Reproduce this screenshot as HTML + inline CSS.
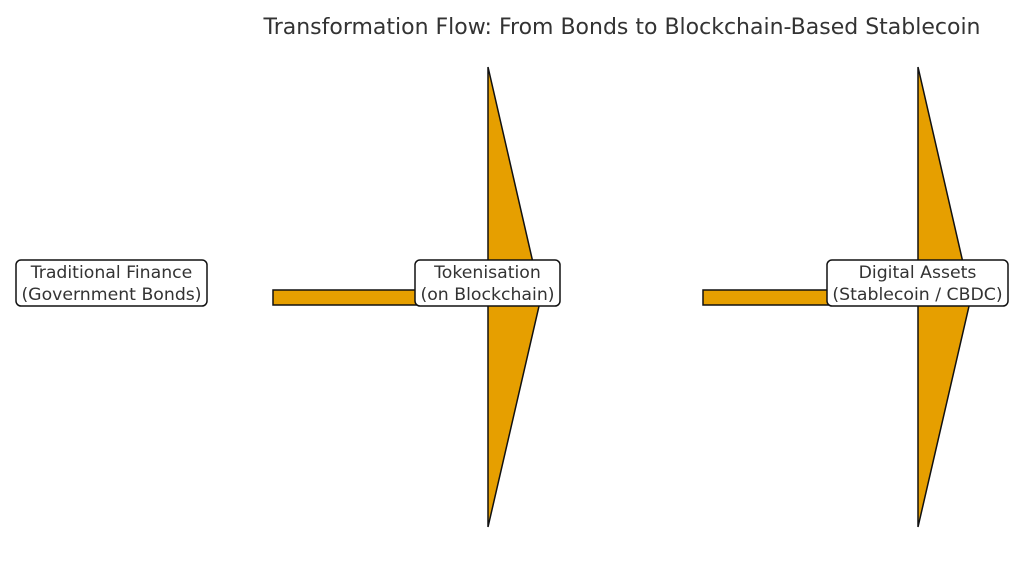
<!DOCTYPE html>
<html><head><meta charset="utf-8"><style>
html,body{margin:0;padding:0;background:#fff;}
svg{display:block;}
text{font-family:"DejaVu Sans","Liberation Sans",sans-serif;fill:#333;}
</style></head><body>
<svg width="1024" height="569" viewBox="0 0 1024 569" xmlns="http://www.w3.org/2000/svg">
<text x="622" y="34" font-size="22" text-anchor="middle">Transformation Flow: From Bonds to Blockchain-Based Stablecoin</text>
<polygon points="273,290 488,290 488,67 541,297.5 488,527 488,305 273,305" fill="#E69F00" stroke="#111" stroke-width="1.5" stroke-linejoin="miter"/>
<polygon points="703,290 918,290 918,67 971,297.5 918,527 918,305 703,305" fill="#E69F00" stroke="#111" stroke-width="1.5"/>
<rect x="16" y="260" width="191" height="46" rx="5" fill="#fff" stroke="#111" stroke-width="1.5"/>
<text x="111.5" y="278" font-size="17.3" text-anchor="middle">Traditional Finance</text>
<text x="111.5" y="300" font-size="17.3" text-anchor="middle">(Government Bonds)</text>
<rect x="415" y="260" width="145" height="46" rx="5" fill="#fff" stroke="#111" stroke-width="1.5"/>
<text x="487.5" y="278" font-size="17.3" text-anchor="middle">Tokenisation</text>
<text x="487.5" y="300" font-size="17.3" text-anchor="middle">(on Blockchain)</text>
<rect x="827" y="260" width="181" height="46" rx="5" fill="#fff" stroke="#111" stroke-width="1.5"/>
<text x="917.5" y="278" font-size="17.3" text-anchor="middle">Digital Assets</text>
<text x="917.5" y="300" font-size="17.3" text-anchor="middle">(Stablecoin / CBDC)</text>
</svg>
</body></html>
